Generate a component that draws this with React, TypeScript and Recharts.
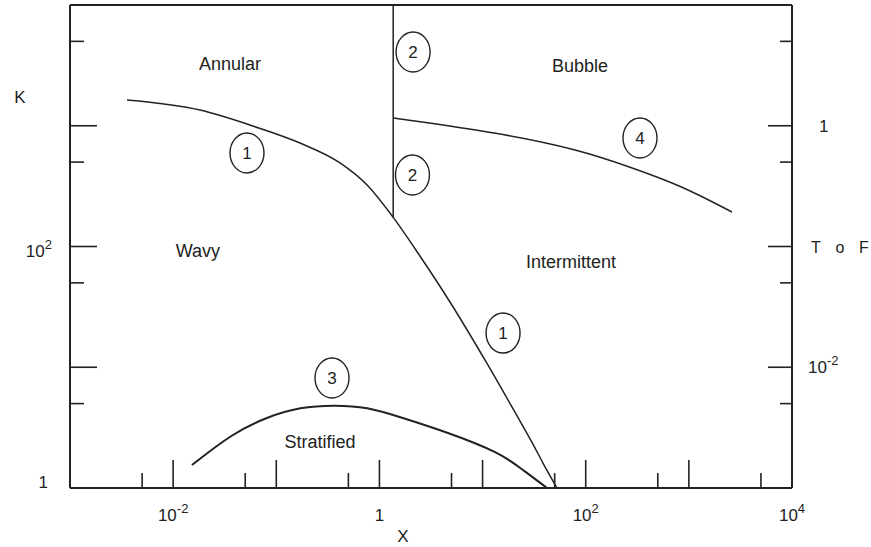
import { ComposedChart, Line, XAxis, YAxis, ReferenceDot } from "recharts";

// boundary curves, X vs K on log-log axes
const curve1 = [
  { x: 0.00357, k: 1633 },
  { x: 0.0182, k: 1349 },
  { x: 0.0594, k: 995 },
  { x: 0.17, k: 719 },
  { x: 0.415, k: 492 },
  { x: 0.759, k: 323 },
  { x: 1.355, k: 175 },
  { x: 2.47, k: 83.4 },
  { x: 4.83, k: 34.7 },
  { x: 11.0, k: 10.8 },
  { x: 21.6, k: 3.95 },
  { x: 30.8, k: 2.31 },
  { x: 38.5, k: 1.61 },
  { x: 52.7, k: 1 },
];

const curve2 = [
  { x: 1.36, k: 175 },
  { x: 1.36, k: 10000 },
];

const curve3 = [
  { x: 0.0152, k: 1.55 },
  { x: 0.038, k: 2.85 },
  { x: 0.0813, k: 3.87 },
  { x: 0.17, k: 4.69 },
  { x: 0.371, k: 4.86 },
  { x: 0.759, k: 4.69 },
  { x: 1.58, k: 3.87 },
  { x: 4.83, k: 2.85 },
  { x: 14.8, k: 1.95 },
  { x: 23.1, k: 1.47 },
  { x: 42.2, k: 1 },
];

const curve4 = [
  { x: 1.36, k: 1159 },
  { x: 14.8, k: 871 },
  { x: 88.1, k: 630 },
  { x: 269, k: 455 },
  { x: 820, k: 323 },
  { x: 2618, k: 193 },
];

// circled curve numbers
const curveTags = [
  { x: 0.052, k: 595, text: "1" },
  { x: 2.12, k: 4080, text: "2" },
  { x: 2.09, k: 391, text: "2" },
  { x: 336, k: 792, text: "4" },
  { x: 0.347, k: 8.15, text: "3" },
  { x: 15.8, k: 19.2, text: "1" },
];

// flow regime names
const regions = [
  { x: 0.0356, k: 3245, text: "Annular" },
  { x: 88, k: 3126, text: "Bubble" },
  { x: 0.0174, k: 91.8, text: "Wavy" },
  { x: 72.1, k: 74.4, text: "Intermittent" },
  { x: 0.265, k: 2.4, text: "Stratified" },
];

const xMajor = [0.01, 0.1, 1, 10, 100, 1000];
const xMinor = [0.005, 0.05, 0.5, 5, 50, 500, 5000];
const xLabels = [
  { value: 0.01, base: "10", exp: "-2" },
  { value: 1, base: "1", exp: "" },
  { value: 100, base: "10", exp: "2" },
  { value: 10000, base: "10", exp: "4" },
];

const kMajor = [10, 100, 1000];
const kMinor = [5, 50, 500, 5000];
const kLabels = [
  { value: 1, base: "1", exp: "" },
  { value: 100, base: "10", exp: "2" },
];

// right-hand scale: T or F
const tfMajor = [0.01, 0.1, 1];
const tfMinor = [0.005, 0.05, 0.5, 5];
const tfLabels = [
  { value: 0.01, base: "10", exp: "-2" },
  { value: 0.1, base: "T o F", exp: "" },
  { value: 1, base: "1", exp: "" },
];

const FONT = "'Liberation Sans', Arial, sans-serif";
const INK = "#222";

const same = (a: number, b: number) => Math.abs(a - b) <= Math.abs(b) * 1e-6;
const has = (list: number[], v: number) => list.some((t) => same(t, v));
const labelFor = (list: { value: number; base: string; exp: string }[], v: number) =>
  list.find((l) => same(l.value, v));

function Power({ x, y, base, exp, anchor }: any) {
  return (
    <text x={x} y={y} textAnchor={anchor} fontFamily={FONT} fontSize={17} fill={INK}>
      {base}
      {exp && (
        <tspan dy={-8} fontSize={13}>
          {exp}
        </tspan>
      )}
    </text>
  );
}

function BottomTick({ x, y, payload }: any) {
  const v = payload.value;
  const len = has(xMajor, v) ? 28 : has(xMinor, v) ? 15 : 0;
  const lab = labelFor(xLabels, v);
  return (
    <g>
      {len > 0 && <line x1={x} x2={x} y1={y} y2={y - len} stroke={INK} strokeWidth={1.6} />}
      {lab && <Power x={x} y={y + 33} base={lab.base} exp={lab.exp} anchor="middle" />}
    </g>
  );
}

function TopTick({ x, y, payload }: any) {
  const v = payload.value;
  const len = has(xMajor, v) ? 31 : has(xMinor, v) ? 17 : 0;
  if (!len) return <g />;
  return <line x1={x} x2={x} y1={y} y2={y + len} stroke={INK} strokeWidth={1.6} />;
}

function LeftTick({ x, y, payload }: any) {
  const v = payload.value;
  const len = has(kMajor, v) ? 27 : has(kMinor, v) ? 14 : 0;
  const lab = labelFor(kLabels, v);
  return (
    <g>
      {len > 0 && <line x1={x} x2={x + len} y1={y} y2={y} stroke={INK} strokeWidth={1.6} />}
      {lab && (
        <Power
          x={lab.exp ? x - 18 : x - 22}
          y={lab.exp ? y + 10 : y}
          base={lab.base}
          exp={lab.exp}
          anchor="end"
        />
      )}
    </g>
  );
}

function RightTick({ x, y, payload }: any) {
  const v = payload.value;
  const len = has(tfMajor, v) ? 24 : has(tfMinor, v) ? 12 : 0;
  const lab = labelFor(tfLabels, v);
  const spaced = lab && lab.base.includes(" ");
  return (
    <g>
      {len > 0 && <line x1={x} x2={x - len} y1={y} y2={y} stroke={INK} strokeWidth={1.6} />}
      {spaced &&
        lab.base.split(" ").map((ch: string, i: number) => (
          <text
            key={i}
            x={x + 24 + i * 24}
            y={y + 6}
            textAnchor="middle"
            fontFamily={FONT}
            fontSize={16}
            fill={INK}
          >
            {ch}
          </text>
        ))}
      {lab && !spaced && (
        <Power x={lab.exp ? x + 16 : x + 27} y={y + 6} base={lab.base} exp={lab.exp} anchor="start" />
      )}
    </g>
  );
}

function Tag({ cx, cy, text }: any) {
  return (
    <g>
      <ellipse cx={cx} cy={cy} rx={17} ry={20} fill="#fff" stroke={INK} strokeWidth={1.4} />
      <text x={cx} y={cy + 6} textAnchor="middle" fontFamily={FONT} fontSize={17} fill={INK}>
        {text}
      </text>
    </g>
  );
}

function RegionName({ cx, cy, text }: any) {
  return (
    <text x={cx} y={cy + 6} textAnchor="middle" fontFamily={FONT} fontSize={18} fill={INK}>
      {text}
    </text>
  );
}

const lineProps = {
  xAxisId: "b",
  yAxisId: "l",
  dataKey: "k",
  stroke: INK,
  dot: false,
  activeDot: false,
  isAnimationActive: false,
} as const;

export default function App() {
  const xTicks = [...xMajor, ...xMinor, 10000].sort((a, b) => a - b);
  const kTicks = [1, ...kMajor, ...kMinor].sort((a, b) => a - b);
  const tfTicks = [...tfMajor, ...tfMinor].sort((a, b) => a - b);
  return (
    <div style={{ position: "absolute", left: 0, top: 0, background: "#fff" }}>
      <ComposedChart width={871} height={547} margin={{ top: 0, right: 0, bottom: 0, left: 0 }}>
        <XAxis
          xAxisId="b"
          type="number"
          dataKey="x"
          scale="log"
          domain={[0.001, 10000]}
          allowDataOverflow
          ticks={xTicks}
          interval={0}
          height={59}
          tickSize={0}
          tickMargin={0}
          tick={<BottomTick />}
          axisLine={{ stroke: INK, strokeWidth: 2 }}
        />
        <XAxis
          xAxisId="t"
          orientation="top"
          type="number"
          scale="log"
          domain={[0.001, 10000]}
          allowDataOverflow
          ticks={xTicks}
          interval={0}
          height={5}
          tickSize={0}
          tickMargin={0}
          tick={<TopTick />}
          axisLine={{ stroke: INK, strokeWidth: 2 }}
        />
        <YAxis
          yAxisId="l"
          type="number"
          scale="log"
          domain={[1, 10000]}
          allowDataOverflow
          ticks={kTicks}
          interval={0}
          width={70}
          tickSize={0}
          tickMargin={0}
          tick={<LeftTick />}
          axisLine={{ stroke: INK, strokeWidth: 2 }}
        />
        <YAxis
          yAxisId="r"
          orientation="right"
          type="number"
          scale="log"
          domain={[0.001, 10]}
          allowDataOverflow
          ticks={tfTicks}
          interval={0}
          width={79}
          tickSize={0}
          tickMargin={0}
          tick={<RightTick />}
          axisLine={{ stroke: INK, strokeWidth: 2 }}
        />
        <Line {...lineProps} data={curve1} type="monotone" strokeWidth={1.5} />
        <Line {...lineProps} data={curve2} type="linear" strokeWidth={1.5} />
        <Line {...lineProps} data={curve3} type="basis" strokeWidth={2} />
        <Line {...lineProps} data={curve4} type="basis" strokeWidth={1.5} />
        {curveTags.map((t, i) => (
          <ReferenceDot
            key={"tag" + i}
            xAxisId="b"
            yAxisId="l"
            x={t.x}
            y={t.k}
            shape={(p: any) => <Tag cx={p.cx} cy={p.cy} text={t.text} />}
          />
        ))}
        {regions.map((r, i) => (
          <ReferenceDot
            key={"reg" + i}
            xAxisId="b"
            yAxisId="l"
            x={r.x}
            y={r.k}
            shape={(p: any) => <RegionName cx={p.cx} cy={p.cy} text={r.text} />}
          />
        ))}
        <text x={20} y={103} textAnchor="middle" fontFamily={FONT} fontSize={17} fill={INK}>
          K
        </text>
        <text x={403} y={542} textAnchor="middle" fontFamily={FONT} fontSize={17} fill={INK}>
          X
        </text>
      </ComposedChart>
    </div>
  );
}
